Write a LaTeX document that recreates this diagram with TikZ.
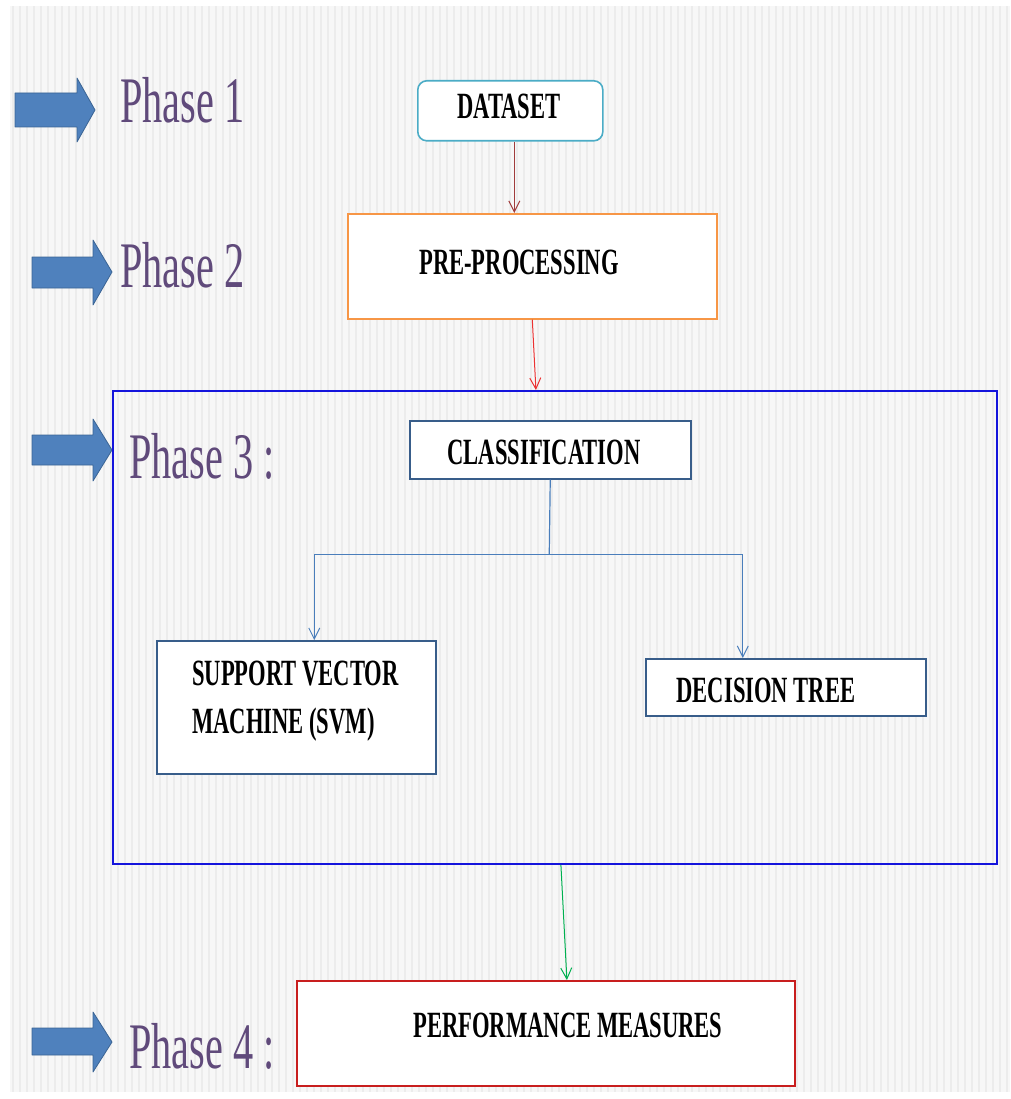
\documentclass[tikz,border=0pt]{standalone}
\usepackage{fontspec}
\setmainfont{Liberation Serif}
\usetikzlibrary{arrows.meta,calc}
\definecolor{bgc}{RGB}{247,247,247}
\definecolor{stripec}{RGB}{236,236,236}
\definecolor{barrowc}{RGB}{79,129,189}
\definecolor{barrowe}{RGB}{58,100,148}
\definecolor{phasec}{RGB}{96,74,123}
\definecolor{dsc}{RGB}{75,172,198}
\definecolor{a1c}{RGB}{160,60,60}
\definecolor{ppc}{RGB}{247,150,70}
\definecolor{a2c}{RGB}{235,50,50}
\definecolor{bigc}{RGB}{20,20,220}
\definecolor{clc}{RGB}{56,93,138}
\definecolor{conc}{RGB}{74,126,187}
\definecolor{grc}{RGB}{0,176,80}
\definecolor{pfc}{RGB}{200,30,30}
\newcommand\sqz[1]{\scalebox{0.61}[1]{#1}}
\begin{document}
\begin{tikzpicture}[x=1pt,y=-1pt,
  boxs/.style={draw, fill=white, rectangle, inner sep=0pt, anchor=north west},
  lbl/.style={font=\fontsize{37}{48}\selectfont\bfseries, text=black, inner sep=0pt},
  phase/.style={font=\fontsize{65}{70}\selectfont, text=phasec, inner sep=0pt, anchor=base west},
  blk/.style={fill=barrowc, draw=barrowe, line width=0.8pt, line join=round},
  tip/.style={-{Straight Barb[length=11pt,width=11pt,line width=1pt]}}]
\useasboundingbox (0,0) rectangle (1010,1099);
% background
\fill[bgc] (10,6) rectangle (1010,1092);
\foreach \x in {12,19,...,1008} \fill[stripec] (\x,6) rectangle ++(2,1086);

% phase block arrows
\path[blk] (15,93) -- (77,93) -- (77,78) -- (95,110) -- (77,142) -- (77,127) -- (15,127) -- cycle;
\path[blk] (32,257) -- (93,257) -- (93,240) -- (112,272) -- (93,305) -- (93,288) -- (32,288) -- cycle;
\path[blk] (32,435) -- (93,435) -- (93,419) -- (112,450) -- (93,481) -- (93,465) -- (32,465) -- cycle;
\path[blk] (32,1028) -- (93,1028) -- (93,1012) -- (112,1042) -- (93,1072) -- (93,1055) -- (32,1055) -- cycle;

% phase labels
\node[phase] (p1) at (120,123) {\scalebox{0.62}[1]{Phase 1}};
\node[phase] (p2) at (120,287) {\scalebox{0.62}[1]{Phase 2}};
\node[phase] (p3) at (129,478) {\scalebox{0.62}[1]{Phase 3 :}};
\node[phase] (p4) at (129,1068) {\scalebox{0.62}[1]{Phase 4 :}};

% big phase-3 frame
\node[draw=bigc, line width=1.8pt, rectangle, inner sep=0pt, anchor=north west,
      minimum width=884, minimum height=473] (big) at (112,390) {};

% boxes
\node[boxs, draw=dsc, line width=1.6pt, rounded corners=9pt, minimum width=185, minimum height=60] (ds) at (417,80) {};
\node[lbl] (dst) at (509,106) {\sqz{DATASET}};

\node[boxs, draw=ppc, line width=1.6pt, minimum width=369, minimum height=105] (pp) at (347,213) {};
\node[lbl] (ppt) at (519,262) {\sqz{PRE-PROCESSING}};

\node[boxs, draw=clc, line width=1.5pt, minimum width=281, minimum height=58] (cl) at (409,420) {};
\node[lbl] (clt) at (544,452) {\sqz{CLASSIFICATION}};

\node[boxs, draw=clc, line width=1.5pt, minimum width=279, minimum height=133] (svm) at (156,640) {};
\node[lbl, anchor=base west] (svmt) at (192,685) {\sqz{\begin{tabular}[t]{@{}l@{}}SUPPORT VECTOR\\MACHINE (SVM)\end{tabular}}};

\node[boxs, draw=clc, line width=1.5pt, minimum width=280, minimum height=57] (dt) at (645,658) {};
\node[lbl] (dtt) at (766,690) {\sqz{DECISION TREE}};

\node[boxs, draw=pfc, line width=1.8pt, minimum width=498, minimum height=105] (pf) at (296,980) {};
\node[lbl] (pft) at (568,1025) {\sqz{PERFORMANCE MEASURES}};

% connectors
\draw[a1c, line width=1pt, tip] ($(ds.south)+(4,0)$) -- ($(pp.north)-(18,0)$);
\draw[a2c, line width=1pt, tip] (pp.south) -- ($(big.north)-(19,0)$);
\coordinate (split) at ($(cl.south)+(-1,75)$);
\draw[conc, line width=1.2pt] (cl.south) -- (split);
\draw[conc, line width=1.2pt, tip] (split) -| ($(svm.north)+(18,0)$);
\draw[conc, line width=1.2pt, tip] (split) -| ($(dt.north)-(43,0)$);
\draw[grc, line width=1pt, tip] ($(big.south)+(6,0)$) -- ($(pf.north)+(21,0)$);
\end{tikzpicture}
\end{document}
